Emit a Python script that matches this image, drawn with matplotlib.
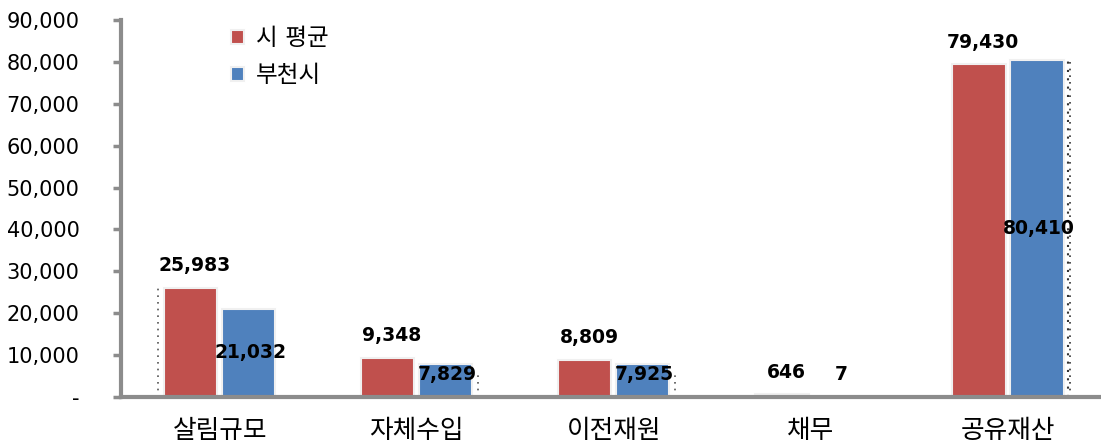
import numpy as np
import matplotlib
matplotlib.use('Agg')
import matplotlib.pyplot as plt
from matplotlib.ticker import FuncFormatter

plt.rcParams['font.family'] = ['DejaVu Sans', 'Noto Sans CJK KR']

# 데이터
categories = ['살림규모', '자체수입', '이전재원', '채무', '공유재산']
city_avg = [25983, 9348, 8809, 646, 79430]   # 시 평균
bucheon = [21032, 7829, 7925, 7, 80410]      # 부천시
series_names = ['시 평균', '부천시']

red = '#C0504D'
blue = '#4F81BD'
gray = '#8c8c8c'

fig = plt.figure(figsize=(11.01, 4.47), dpi=100)
ax = fig.add_axes([0.110, 0.112, 0.895, 0.843])

x = np.arange(len(categories))
w = 0.27
off = 0.147

b1 = ax.bar(x - off, city_avg, w, color=red, edgecolor='#f0f0f0', linewidth=1.5, label=series_names[0])
b2 = ax.bar(x + off, bucheon, w, color=blue, edgecolor='#f0f0f0', linewidth=1.5, label=series_names[1])

# 점선 (원본의 잔상 표현)
ax.vlines(x[0] - off - w / 2 - 0.03, 0, city_avg[0], colors='#555555', linestyles=(0, (1, 3)), linewidth=1.2)
for i in [1, 2]:
    ax.vlines(x[i] + off + w / 2 + 0.03, 0, bucheon[i] * 0.75, colors='#555555', linestyles=(0, (1, 3)), linewidth=1.2)
ax.vlines(x[4] + off + w / 2 + 0.025, 0, bucheon[4], colors='#333333', linestyles=(0, (1, 3)), linewidth=1.5)
ax.vlines(x[4] + off + w / 2 + 0.035, 0, bucheon[4], colors='#333333', linestyles=(0, (1, 3)), linewidth=1.2)

# 데이터 레이블
for xi, v in zip(x, city_avg):
    ax.annotate('{:,}'.format(v), (xi - off, v), xytext=(3, 16), textcoords='offset points',
                ha='center', va='center', fontsize=13.5, fontweight='bold')
for xi, v in zip(x, bucheon):
    ax.annotate('{:,}'.format(v), (xi + off, max(v / 2, 5300)), xytext=(1, 0), textcoords='offset points',
                ha='center', va='center', fontsize=13.5, fontweight='bold')

ax.set_xlim(-0.5, len(categories) - 0.5)
ax.set_ylim(0, 90000)
ax.set_yticks(np.arange(0, 90001, 10000))
ax.yaxis.set_major_formatter(FuncFormatter(lambda v, p: '-' if v == 0 else '{:,.0f}'.format(v)))
ax.set_xticks(x)
ax.set_xticklabels(categories, fontsize=18.5)
ax.tick_params(axis='x', length=0, pad=15)
ax.tick_params(axis='y', direction='out', length=6, width=2.5, color=gray, labelsize=15, pad=24)
for lbl in ax.get_yticklabels():
    lbl.set_horizontalalignment('right')

for s in ['top', 'right']:
    ax.spines[s].set_visible(False)
ax.spines['left'].set_color(gray)
ax.spines['left'].set_linewidth(3)
ax.spines['bottom'].set_color(gray)
ax.spines['bottom'].set_linewidth(3)

leg = ax.legend(loc='upper left', bbox_to_anchor=(0.09, 1.04), frameon=False, fontsize=17,
                handlelength=0.55, handleheight=0.55, handletextpad=0.5, labelspacing=0.55)

fig.savefig('out.png', dpi=100)
